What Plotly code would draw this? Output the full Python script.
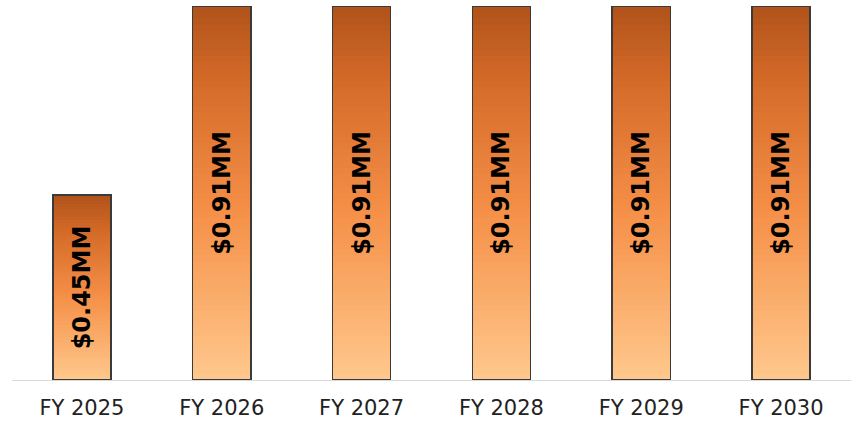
import plotly.graph_objects as go
from plotly.colors import sample_colorscale

categories = ["FY 2025", "FY 2026", "FY 2027", "FY 2028", "FY 2029", "FY 2030"]
values = [0.45, 0.91, 0.91, 0.91, 0.91, 0.91]
labels = ["$0.45MM", "$0.91MM", "$0.91MM", "$0.91MM", "$0.91MM", "$0.91MM"]

# vertical gradient (bottom light -> top dark) built by stacking thin slices of each bar
gradient = [[0.0, "#FFC88C"], [0.45, "#F59048"], [0.8, "#D46A28"], [1.0, "#B0521A"]]
N = 60
fig = go.Figure()
for i in range(N):
    col = sample_colorscale(gradient, [(i + 0.5) / N])[0]
    fig.add_trace(go.Bar(
        x=categories, y=[v / N for v in values],
        marker=dict(color=col, line=dict(width=0)),
        hoverinfo="skip", showlegend=False,
    ))

# outline + labels on an overlaid axis
fig.add_trace(go.Bar(
    x=categories, y=values, xaxis="x2", yaxis="y2",
    marker=dict(color="rgba(0,0,0,0)", line=dict(color="#3a3a3a", width=1.5)),
    text=labels, textposition="inside", insidetextanchor="middle", textangle=-90,
    textfont=dict(family="DejaVu Sans", size=24, color="black", weight="bold"),
    showlegend=False,
))

fig.update_layout(
    barmode="stack",
    bargap=0.585,
    width=851, height=422,
    margin=dict(l=12, r=0, t=6, b=42, autoexpand=False),
    paper_bgcolor="white", plot_bgcolor="white",
    font=dict(family="DejaVu Sans", color="#222222"),
    xaxis=dict(showline=True, linecolor="#D9D9D9", linewidth=1, ticks="",
               tickfont=dict(size=21, color="#222222"), showgrid=False,
               automargin=False, ticklabelstandoff=9),
    yaxis=dict(visible=False, range=[0, 0.91], showgrid=False, automargin=False),
    xaxis2=dict(overlaying="x", visible=False, categoryorder="array",
                categoryarray=categories, automargin=False),
    yaxis2=dict(overlaying="y", visible=False, range=[0, 0.91], automargin=False),
)

fig.write_html("out.html", config={"displayModeBar": False},
               post_script="document.body.style.margin='0';")
